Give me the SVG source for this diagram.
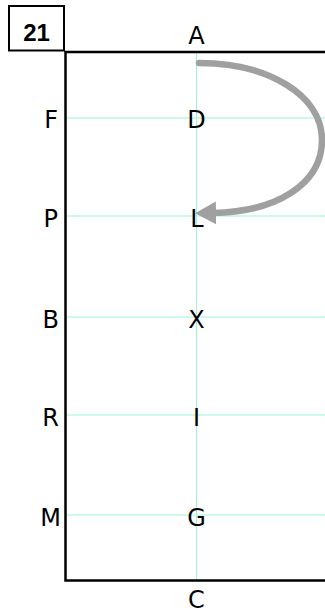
<svg xmlns="http://www.w3.org/2000/svg" width="325" height="613" viewBox="0 0 325 613">
<style>
.grid{stroke:#9ef5d2;stroke-width:1;fill:none}
.frame{stroke:#000;stroke-width:2.5;fill:none}
.lbl{font-family:"DejaVu Sans",Verdana,sans-serif;font-size:24px;fill:#000}
.c{text-anchor:middle}
.r{text-anchor:end}
.arrow{stroke:#a0a0a0;stroke-width:6.5;fill:none;stroke-linecap:round}
</style>
<defs>
<marker id="ah" markerUnits="userSpaceOnUse" markerWidth="28" markerHeight="28" viewBox="0 -14 28 28" refX="3" refY="0" orient="auto">
<path d="M0,-11.5 L21,0 L0,11.5 Z" fill="#a0a0a0"/>
</marker>
</defs>
<rect x="0" y="0" width="325" height="613" fill="#fff"/>
<g id="grid">
<line class="grid" x1="196.5" y1="52" x2="196.5" y2="580"/>
<line class="grid" x1="66" y1="118" x2="325" y2="118"/>
<line class="grid" x1="66" y1="216" x2="325" y2="216"/>
<line class="grid" x1="66" y1="317" x2="325" y2="317"/>
<line class="grid" x1="66" y1="415" x2="325" y2="415"/>
<line class="grid" x1="66" y1="515" x2="325" y2="515"/>
</g>
<g id="frame">
<path class="frame" d="M325,52 L65.5,52 L65.5,580.5 L325,580.5"/>
</g>
<g id="badge">
<rect x="9" y="6" width="55" height="44.5" fill="#fff" stroke="#000" stroke-width="2"/>
<text x="36.5" y="40.5" text-anchor="middle" font-family="'Liberation Sans',Arial,sans-serif" font-weight="bold" font-size="24">21</text>
</g>
<g id="nodes">
<g id="node-A"><text class="lbl c" x="196.5" y="44">A</text></g>
<g id="node-C"><text class="lbl c" x="196.5" y="608">C</text></g>
<g id="node-F"><text class="lbl r" x="58" y="128">F</text></g>
<g id="node-P"><text class="lbl r" x="58" y="227">P</text></g>
<g id="node-B"><text class="lbl r" x="59" y="328">B</text></g>
<g id="node-R"><text class="lbl r" x="59" y="426">R</text></g>
<g id="node-M"><text class="lbl r" x="61" y="526">M</text></g>
<g id="node-D"><text class="lbl c" x="196.5" y="128">D</text></g>
<g id="node-L"><text class="lbl c" x="197" y="227">L</text></g>
<g id="node-X"><text class="lbl c" x="196.5" y="328">X</text></g>
<g id="node-I"><text class="lbl c" x="196.5" y="426">I</text></g>
<g id="node-G"><text class="lbl c" x="196.5" y="526">G</text></g>
</g>
<g id="connectors">
<path class="arrow" d="M199,63 C268,63 322,95 322,140 C322,185 275,212 213,213" marker-end="url(#ah)"/>
</g>
</svg>
